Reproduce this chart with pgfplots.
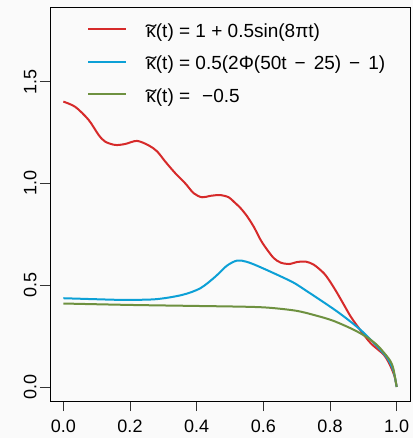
\documentclass[border=0pt]{standalone}
\usepackage{fontspec}
\setmainfont{Liberation Sans}
\usepackage{graphicx}
\usepackage{pgfplots}
\pgfplotsset{compat=1.18}
\definecolor{bgg}{HTML}{FAFAFA}
\definecolor{cred}{HTML}{D62A2A}
\definecolor{cblue}{HTML}{0CA0D6}
\definecolor{cgreen}{HTML}{6E9140}
% kappa with a wide tilde over it
\newcommand{\kt}{\makebox[0pt][l]{\makebox[0.52em]{\raisebox{-0.05em}{\scalebox{1.7}[1]{˜}}}}κ}
\newcommand{\mn}{\hspace{8pt}−\hspace{8pt}}
\begin{document}
\begin{tikzpicture}[x=1pt,y=1pt]
\fill[bgg] (0,0) rectangle (413,438);
\begin{axis}[
    at={(50pt,37pt)}, anchor=south west,
    scale only axis, width=360pt, height=394pt,
    xmin=-0.04, xmax=1.04, ymin=-0.069, ymax=1.867,
    axis line style={black, line width=0.8pt},
    xtick={0,0.2,0.4,0.6,0.8,1},
    ytick={0,0.5,1,1.5},
    xtick pos=bottom, ytick pos=left,
    tick align=outside, major tick length=10pt,
    tick style={black!80, line width=0.8pt},
    /pgf/number format/.cd, fixed, fixed zerofill, precision=1, assume math mode=true,
    /pgfplots/.cd,
    ticklabel style={font=\fontsize{18}{20}\selectfont},
    xticklabel style={yshift=-8pt, inner sep=1pt},
    yticklabel style={rotate=90, anchor=south},
    legend style={at={(0.095,0.962)}, anchor=north west, draw=none, fill=none,
        font=\fontsize{19}{21}\selectfont, row sep=15pt, column sep=19pt,
        cells={anchor=west}, nodes={inner sep=0pt, text height=13pt, text depth=4.5pt}},
    legend image code/.code={\draw[#1] (0pt,3.5pt) -- (38pt,3.5pt);},
    every axis plot/.append style={line width=2pt, smooth, tension=0.5},
]
\addplot[cred] coordinates {
(0,1.402) (0.036,1.376) (0.076,1.312) (0.106,1.238) (0.126,1.205) (0.156,1.189)
(0.186,1.194) (0.221,1.209) (0.256,1.187) (0.281,1.158) (0.306,1.107) (0.336,1.05)
(0.366,1.0) (0.391,0.952) (0.416,0.932) (0.441,0.939) (0.471,0.943) (0.496,0.932)
(0.511,0.911) (0.532,0.878) (0.552,0.837) (0.572,0.785) (0.592,0.722) (0.612,0.673)
(0.632,0.632) (0.652,0.611) (0.677,0.604) (0.702,0.614) (0.727,0.616) (0.752,0.6)
(0.782,0.558) (0.802,0.513) (0.822,0.46) (0.842,0.403) (0.862,0.346) (0.887,0.288)
(0.922,0.215) (0.962,0.157) (0.982,0.1) (0.994,0.05) (1.0,0.0)
};
\addlegendentry{\kt(t) = 1 + 0.5sin(8πt)}
\addplot[cblue] coordinates {
(0,0.436) (0.1,0.431) (0.176,0.428) (0.276,0.431) (0.356,0.452) (0.411,0.485)
(0.456,0.542) (0.49,0.595) (0.521,0.621) (0.55,0.615) (0.592,0.588) (0.682,0.52)
(0.722,0.48) (0.822,0.37) (0.892,0.28) (0.942,0.198) (0.972,0.141) (0.99,0.08) (1.0,0.0)
};
\addlegendentry{\kt(t) = 0.5(2Φ(50t\mn 25)\mn 1)}
\addplot[cgreen] coordinates {
(0,0.41) (0.2,0.403) (0.4,0.398) (0.55,0.394) (0.62,0.389) (0.7,0.374) (0.76,0.35)
(0.81,0.325) (0.87,0.282) (0.91,0.245) (0.94,0.208) (0.96,0.172) (0.98,0.13)
(0.99,0.09) (1.0,0.0)
};
\addlegendentry{\kt(t) =\hspace{12pt}−0.5}
\end{axis}
\pgfresetboundingbox
\path (0,0) rectangle (413,438);
\end{tikzpicture}
\end{document}
